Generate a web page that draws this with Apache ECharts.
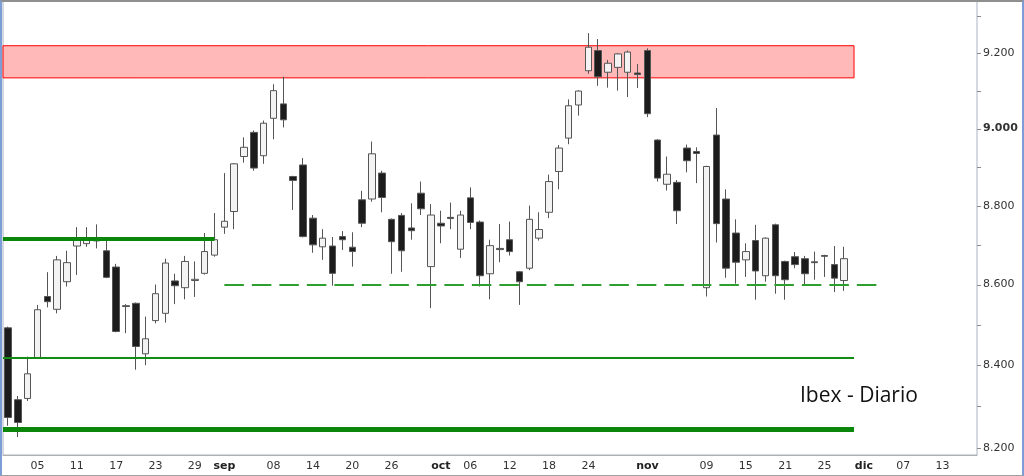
<!DOCTYPE html>
<html>
<head>
<meta charset="utf-8">
<title>Ibex - Diario</title>
<script src="https://cdn.jsdelivr.net/npm/echarts@6/dist/echarts.min.js"></script>
<style>
  html, body { margin: 0; padding: 0; background: #fff; overflow: hidden; }
  #wrap { position: relative; width: 1024px; height: 476px; }
  #main { position: absolute; left: 0; top: 0; width: 1024px; height: 476px; }
  /* marco exterior del gráfico */
  #frame {
    position: absolute; left: 0; top: 0; width: 1024px; height: 476px; box-sizing: border-box;
    border-left: 2px solid #7d9dd6; border-right: 2px solid #7d9dd6;
    border-top: 2px solid #8f8f8f; border-bottom: 1px solid #a0a0a0;
    pointer-events: none;
  }
</style>
</head>
<body>
<div id="wrap"><div id="main"></div><div id="frame"></div></div>
<script>
// Sesiones (días laborables) del eje X
const firstDay = '2016-08-02';
const lastDay = '2016-12-16';

// Etiquetas del eje X
const tickDates = ['2016-08-05', '2016-08-11', '2016-08-17', '2016-08-23', '2016-08-29', '2016-09-01',
  '2016-09-08', '2016-09-14', '2016-09-20', '2016-09-26', '2016-10-03', '2016-10-06', '2016-10-12',
  '2016-10-18', '2016-10-24', '2016-11-01', '2016-11-09', '2016-11-15', '2016-11-21', '2016-11-25',
  '2016-12-01', '2016-12-07', '2016-12-13'];
const tickLabels = ['05', '11', '17', '23', '29', 'sep', '08', '14', '20', '26', 'oct', '06', '12',
  '18', '24', 'nov', '09', '15', '21', '25', 'dic', '07', '13'];

// Eje Y (escala logarítmica)
const yMin = 8183;
const yMax = 9341;
const yLabelValues = [8200, 8400, 8600, 8800, 9000, 9200];
const yTickValues = [8200, 8300, 8400, 8500, 8600, 8700, 8800, 8900, 9000, 9100, 9200, 9300];

// Velas diarias del Ibex
const opens = [8492, 8316, 8319, 8419, 8570, 8538, 8607, 8697, 8703, 8713,
  8685, 8644, 8547, 8553, 8428, 8510, 8528, 8609, 8592, 8610,
  8628, 8674, 8745, 8785, 8927, 8990, 8929, 9027, 9065, 8875,
  8905, 8768, 8695, 8697, 8721, 8694, 8815, 8817, 8884, 8765,
  8775, 8743, 8832, 8645, 8755, 8770, 8689, 8820, 8758, 8627,
  8691, 8713, 8632, 8641, 8717, 8783, 8888, 8975, 9062, 9153,
  9207, 9149, 9162, 9149, 9147, 9207, 8970, 8855, 8860, 8949,
  8940, 8592, 8983, 8817, 8730, 8662, 8711, 8622, 8751, 8658,
  8670, 8665, 8657, 8673, 8650, 8610];
const closes = [8273, 8261, 8379, 8537, 8557, 8662, 8655, 8717, 8716, 8710,
  8618, 8483, 8545, 8446, 8465, 8577, 8654, 8597, 8658, 8613,
  8683, 8713, 8760, 8908, 8951, 8897, 9014, 9100, 9023, 8865,
  8721, 8700, 8717, 8628, 8713, 8683, 8755, 8934, 8821, 8708,
  8685, 8736, 8792, 8776, 8748, 8767, 8776, 8757, 8622, 8698,
  8688, 8683, 8607, 8765, 8739, 8862, 8949, 9060, 9099, 9216,
  9137, 9173, 9198, 9203, 9143, 9039, 8871, 8881, 8787, 8916,
  8935, 8901, 8754, 8641, 8656, 8683, 8634, 8717, 8622, 8612,
  8650, 8627, 8655, 8671, 8616, 8665];
const lows = [8253, 8226, 8313, 8417, 8543, 8528, 8595, 8624, 8695, 8691,
  8616, 8481, 8479, 8389, 8400, 8503, 8505, 8551, 8563, 8569,
  8625, 8670, 8728, 8740, 8911, 8890, 8908, 8972, 9003, 8789,
  8719, 8680, 8662, 8597, 8687, 8645, 8745, 8810, 8783, 8627,
  8632, 8713, 8776, 8541, 8704, 8740, 8667, 8740, 8595, 8563,
  8656, 8673, 8549, 8636, 8711, 8768, 8842, 8959, 9034, 9145,
  9113, 9108, 9100, 9083, 9107, 9030, 8862, 8839, 8753, 8886,
  8858, 8570, 8706, 8617, 8602, 8619, 8562, 8607, 8577, 8562,
  8641, 8600, 8612, 8619, 8581, 8584];
const highs = [8495, 8325, 8421, 8549, 8631, 8672, 8685, 8745, 8745, 8752,
  8713, 8652, 8551, 8555, 8520, 8600, 8665, 8627, 8672, 8658,
  8730, 8781, 8884, 8910, 8977, 8995, 9021, 9117, 9137, 8877,
  8923, 8776, 8740, 8720, 8735, 8732, 8838, 8966, 8890, 8767,
  8781, 8806, 8862, 8804, 8787, 8808, 8787, 8847, 8762, 8713,
  8753, 8759, 8634, 8800, 8783, 8880, 8957, 9077, 9101, 9254,
  9238, 9182, 9200, 9207, 9171, 9213, 8972, 8927, 8866, 8958,
  8951, 8903, 9054, 8842, 8765, 8704, 8751, 8719, 8754, 8660,
  8682, 8672, 8683, 8675, 8697, 8695];

// Zona de resistencia y niveles horizontales
const resistTop = 9220;
const resistBottom = 9134;
const resistEnd = '2016-11-30';
const supportUpper = 8715;
const supportUpperEnd = '2016-08-31';
const pivotLevel = 8600;
const pivotFrom = '2016-09-01';
const pivotTo = '2016-12-05';
const supportMid = 8418;
const supportLow = 8245;
const levelsEnd = '2016-11-30';

const GRID = { left: 3, right: 47, top: 1, bottom: 21 };
const axisFont = 'DejaVu Sans';

function tradingDays(from, to) {
  const out = [];
  const d = new Date(from + 'T00:00:00Z');
  const end = new Date(to + 'T00:00:00Z');
  while (d <= end) {
    const wd = d.getUTCDay();
    if (wd !== 0 && wd !== 6) out.push(d.toISOString().slice(0, 10));
    d.setUTCDate(d.getUTCDate() + 1);
  }
  return out;
}

const dates = tradingDays(firstDay, lastDay);
const candles = opens.map((o, i) => [o, closes[i], lows[i], highs[i]]);
const showTick = (index, value) => tickDates.indexOf(value) >= 0;
const fmtPrice = v => (v / 1000).toFixed(3);

const chart = echarts.init(document.getElementById('main'), null, { renderer: 'canvas' });

const option = {
  animation: false,
  backgroundColor: '#ffffff',
  textStyle: { fontFamily: axisFont },
  title: {
    text: 'Ibex - Diario',
    left: 800,
    top: 386,
    padding: 0,
    textStyle: { fontFamily: 'Open Sans', fontSize: 21, fontWeight: 'normal', color: '#111111' },
  },
  grid: {
    left: GRID.left, right: GRID.right, top: GRID.top, bottom: GRID.bottom,
    show: true, borderColor: '#aab2c2', borderWidth: 1, backgroundColor: 'transparent',
  },
  xAxis: {
    type: 'category',
    data: dates,
    boundaryGap: true,
    axisLine: { lineStyle: { color: '#b0b0b0' } },
    axisTick: { interval: showTick, alignWithLabel: true, length: 4, lineStyle: { color: '#9a9a9a' } },
    axisLabel: {
      interval: showTick,
      margin: 6,
      fontSize: 11,
      fontFamily: axisFont,
      color: '#333',
      formatter: value => {
        const label = tickLabels[tickDates.indexOf(value)];
        return isNaN(Number(label)) ? '{m|' + label + '}' : label;
      },
      rich: { m: { fontWeight: 'bold', fontSize: 11, fontFamily: axisFont, color: '#222' } },
    },
    splitLine: { show: false },
  },
  yAxis: {
    type: 'log',
    logBase: 10,
    position: 'right',
    min: yMin,
    max: yMax,
    axisLine: { show: false },
    axisTick: { show: false },
    axisLabel: { show: false },
    splitLine: { show: false },
    minorTick: { show: false },
  },
  series: [
    {
      type: 'candlestick',
      data: candles,
      barWidth: 7,
      itemStyle: {
        color: '#f3f3f3',      // vela alcista: blanca
        color0: '#1c1c1c',     // vela bajista: negra
        borderColor: '#555555',
        borderColor0: '#555555',
        borderWidth: 1,
      },
      emphasis: { disabled: true },
      markArea: {
        silent: true,
        itemStyle: { color: '#ffb9b9', borderColor: '#ff0000', borderWidth: 1 },
        data: [[{ x: GRID.left, yAxis: resistTop }, { xAxis: resistEnd, yAxis: resistBottom }]],
      },
      markLine: {
        silent: true,
        symbol: ['none', 'none'],
        label: { show: false },
        emphasis: { disabled: true },
        data: [
          [{ x: GRID.left, yAxis: supportUpper, lineStyle: { color: '#0a870a', width: 4, type: 'solid' } },
           { xAxis: supportUpperEnd, yAxis: supportUpper }],
          [{ xAxis: pivotFrom, yAxis: pivotLevel, lineStyle: { color: '#2e9e2e', width: 2, type: [19.5, 8] } },
           { xAxis: pivotTo, yAxis: pivotLevel }],
          [{ x: GRID.left, yAxis: supportMid, lineStyle: { color: '#148c14', width: 2, type: 'solid' } },
           { xAxis: levelsEnd, yAxis: supportMid }],
          [{ x: GRID.left, yAxis: supportLow, lineStyle: { color: '#0a870a', width: 5, type: 'solid' } },
           { xAxis: levelsEnd, yAxis: supportLow }],
        ],
      },
    },
  ],
};

chart.setOption(option);

// Marcas y etiquetas del eje de precios, situadas con la escala logarítmica del propio eje
const axisX = 1024 - GRID.right;
const yGraphics = [];
yTickValues.forEach(v => {
  const y = Math.round(chart.convertToPixel({ yAxisIndex: 0 }, v)) + 0.5;
  yGraphics.push({
    type: 'line', silent: true,
    shape: { x1: axisX, y1: y, x2: axisX + 4, y2: y },
    style: { stroke: '#8c8c8c', lineWidth: 1 },
  });
});
yLabelValues.forEach(v => {
  const y = chart.convertToPixel({ yAxisIndex: 0 }, v);
  yGraphics.push({
    type: 'text', silent: true, x: axisX + 6, y: y,
    style: {
      text: fmtPrice(v), fill: '#333', fontSize: 11, fontFamily: axisFont,
      fontWeight: v === 9000 ? 'bold' : 'normal', align: 'left', verticalAlign: 'middle',
    },
  });
});
chart.setOption({ graphic: yGraphics });
</script>
</body>
</html>
